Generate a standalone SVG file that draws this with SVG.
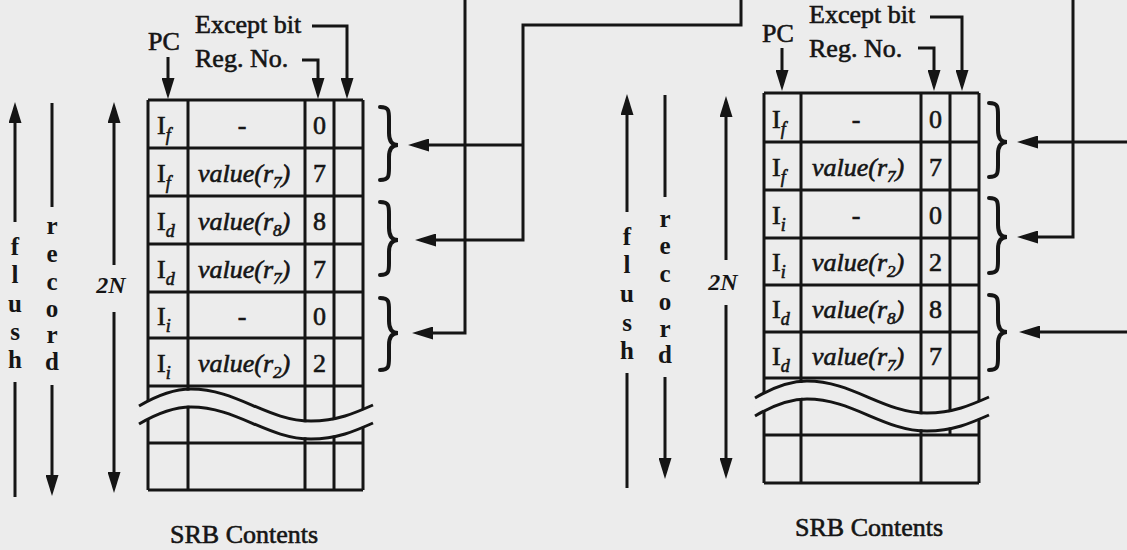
<svg xmlns="http://www.w3.org/2000/svg" xmlns:xlink="http://www.w3.org/1999/xlink" width="1127" height="550" viewBox="0 0 1127 550">
<style>
.ln{fill:none;stroke:#151515;stroke-width:3}
.br{fill:none;stroke:#151515;stroke-width:4;stroke-linecap:round}
.t{font-family:"Liberation Serif","Times New Roman",serif;font-size:26px;fill:#151515;stroke:#151515;stroke-width:0.6}
.c{font-family:"Liberation Serif","Times New Roman",serif;font-size:26px;fill:#151515;stroke:#151515;stroke-width:0.6}
.it{font-style:italic}
.sub{font-size:18px;font-style:italic}
.sd{font-size:17px}
.mid{text-anchor:middle}
.v{font-family:"Liberation Serif","Times New Roman",serif;font-size:25px;font-weight:bold;fill:#151515;text-anchor:middle}
.n2{font-family:"Liberation Serif","Times New Roman",serif;font-size:24px;font-style:italic;font-weight:bold;fill:#151515;text-anchor:middle}
.mask{fill:none;stroke:#ececec;stroke-width:15}
</style>
<defs>
<marker id="ah" markerUnits="userSpaceOnUse" markerWidth="21" markerHeight="13" refX="15" refY="6.5" orient="auto">
<path d="M0,0 L21,6.5 L0,13 z" fill="#151515"/>
</marker>
<path id="wave" d="M0,0 C17,-10 34,-17 52,-17 C98,-17 128,15 172,15 C198,15 216,7 234,-1"/>
</defs>
<rect width="1127" height="550" fill="#ececec"/>

<g id="table-left">
<path class="ln" d="M148,100 H363 M148,148 H363 M148,196 H363 M148,244 H363 M148,292 H363 M148,338 H363 M148,386 H363 M148,443 H363 M148,490 H363 M148,100 V490 M188,100 V490 M305,100 V490 M334,100 V490 M363,100 V490"/>
<use xlink:href="#wave" class="mask" transform="translate(139,415)"/>
<use xlink:href="#wave" class="ln" transform="translate(139,406)"/>
<use xlink:href="#wave" class="ln" transform="translate(139,424)"/>
<g class="c">
<text x="157" y="134">I<tspan class="sub" dy="7">f</tspan></text>
<text x="157" y="182">I<tspan class="sub" dy="7">f</tspan></text>
<text x="157" y="230">I<tspan class="sub" dy="7">d</tspan></text>
<text x="157" y="278">I<tspan class="sub" dy="7">d</tspan></text>
<text x="157" y="325">I<tspan class="sub" dy="7">i</tspan></text>
<text x="157" y="372">I<tspan class="sub" dy="7">i</tspan></text>
<text x="242" y="134" class="mid">-</text>
<text x="198" y="182" class="it">value(r<tspan class="sd" dy="6">7</tspan><tspan dy="-6">)</tspan></text>
<text x="198" y="230" class="it">value(r<tspan class="sd" dy="6">8</tspan><tspan dy="-6">)</tspan></text>
<text x="198" y="278" class="it">value(r<tspan class="sd" dy="6">7</tspan><tspan dy="-6">)</tspan></text>
<text x="242" y="325" class="mid">-</text>
<text x="198" y="372" class="it">value(r<tspan class="sd" dy="6">2</tspan><tspan dy="-6">)</tspan></text>
<text x="319.5" y="134" class="mid">0</text>
<text x="319.5" y="182" class="mid">7</text>
<text x="319.5" y="230" class="mid">8</text>
<text x="319.5" y="278" class="mid">7</text>
<text x="319.5" y="325" class="mid">0</text>
<text x="319.5" y="372" class="mid">2</text>
</g>
</g>

<g id="table-right">
<path class="ln" d="M764,93 H979 M764,142 H979 M764,190 H979 M764,238 H979 M764,285 H979 M764,332 H979 M764,378 H979 M764,435 H979 M764,483 H979 M764,93 V483 M801,93 V483 M921,93 V483 M950,93 V435 M979,93 V483"/>
<use xlink:href="#wave" class="mask" transform="translate(755,407)"/>
<use xlink:href="#wave" class="ln" transform="translate(755,398)"/>
<use xlink:href="#wave" class="ln" transform="translate(755,416)"/>
<g class="c">
<text x="772" y="128">I<tspan class="sub" dy="7">f</tspan></text>
<text x="772" y="176">I<tspan class="sub" dy="7">f</tspan></text>
<text x="772" y="224">I<tspan class="sub" dy="7">i</tspan></text>
<text x="772" y="271">I<tspan class="sub" dy="7">i</tspan></text>
<text x="772" y="318">I<tspan class="sub" dy="7">d</tspan></text>
<text x="772" y="365">I<tspan class="sub" dy="7">d</tspan></text>
<text x="856" y="128" class="mid">-</text>
<text x="812" y="176" class="it">value(r<tspan class="sd" dy="6">7</tspan><tspan dy="-6">)</tspan></text>
<text x="856" y="224" class="mid">-</text>
<text x="812" y="271" class="it">value(r<tspan class="sd" dy="6">2</tspan><tspan dy="-6">)</tspan></text>
<text x="812" y="318" class="it">value(r<tspan class="sd" dy="6">8</tspan><tspan dy="-6">)</tspan></text>
<text x="812" y="365" class="it">value(r<tspan class="sd" dy="6">7</tspan><tspan dy="-6">)</tspan></text>
<text x="935.5" y="128" class="mid">0</text>
<text x="935.5" y="176" class="mid">7</text>
<text x="935.5" y="224" class="mid">0</text>
<text x="935.5" y="271" class="mid">2</text>
<text x="935.5" y="318" class="mid">8</text>
<text x="935.5" y="365" class="mid">7</text>
</g>
</g>

<g id="labels-left">
<text class="t" x="148" y="50">PC</text>
<text class="t" x="195" y="33">Except bit</text>
<text class="t" x="195" y="67">Reg. No.</text>
<text class="t" x="170" y="543">SRB Contents</text>
<text class="n2" x="111" y="293">2N</text>
<g class="v">
<text x="15" y="255">f</text><text x="15" y="283">l</text><text x="15" y="312">u</text><text x="15" y="340">s</text><text x="15" y="368">h</text>
<text x="52" y="234">r</text><text x="52" y="262">e</text><text x="52" y="290">c</text><text x="52" y="317">o</text><text x="52" y="343">r</text><text x="52" y="370">d</text>
</g>
</g>

<g id="labels-right">
<text class="t" x="762" y="42">PC</text>
<text class="t" x="809" y="23">Except bit</text>
<text class="t" x="809" y="57">Reg. No.</text>
<text class="t" x="795" y="536">SRB Contents</text>
<text class="n2" x="723" y="290">2N</text>
<g class="v">
<text x="627" y="245">f</text><text x="627" y="273">l</text><text x="627" y="302">u</text><text x="627" y="331">s</text><text x="627" y="359">h</text>
<text x="665" y="227">r</text><text x="665" y="254">e</text><text x="665" y="282">c</text><text x="665" y="310">o</text><text x="665" y="337">r</text><text x="665" y="363">d</text>
</g>
</g>

<g id="brackets">
<path class="br" d="M380,107 C389,107 389,111 389,119 V133 C389,141 392,145 398,145 C392,145 389,149 389,157 V168 C389,176 389,180 380,180"/>
<path class="br" d="M380,202 C389,202 389,206 389,214 V228 C389,236 392,240 398,240 C392,240 389,244 389,252 V263 C389,271 389,275 380,275"/>
<path class="br" d="M380,298 C389,298 389,302 389,310 V321 C389,329 392,333 398,333 C392,333 389,337 389,345 V358 C389,366 389,370 380,370"/>
<path class="br" d="M989,103 C998,103 998,107 998,115 V130 C998,138 1001,142 1007,142 C1001,142 998,146 998,154 V165 C998,173 998,177 989,177"/>
<path class="br" d="M989,198 C998,198 998,202 998,210 V225 C998,233 1001,237 1007,237 C1001,237 998,241 998,249 V261 C998,269 998,273 989,273"/>
<path class="br" d="M989,295 C998,295 998,299 998,307 V320 C998,328 1001,332 1007,332 C1001,332 998,336 998,344 V358 C998,366 998,370 989,370"/>
</g>

<g id="connectors" class="ln">
<path d="M168,57 V93" marker-end="url(#ah)"/>
<path d="M302,60 H318 V93" marker-end="url(#ah)"/>
<path d="M312,26 H347 V93" marker-end="url(#ah)"/>
<path d="M782,48 V85" marker-end="url(#ah)"/>
<path d="M918,48 H934 V85" marker-end="url(#ah)"/>
<path d="M930,17 H962 V85" marker-end="url(#ah)"/>

<path d="M15,222 V108" marker-end="url(#ah)"/>
<path d="M15,382 V497"/>
<path d="M52,103 V207"/>
<path d="M52,385 V490" marker-end="url(#ah)"/>
<path d="M114,265 V108" marker-end="url(#ah)"/>
<path d="M114,312 V487" marker-end="url(#ah)"/>

<path d="M627,212 V100" marker-end="url(#ah)"/>
<path d="M627,373 V488"/>
<path d="M665,95 V197"/>
<path d="M665,377 V473" marker-end="url(#ah)"/>
<path d="M726,260 V102" marker-end="url(#ah)"/>
<path d="M726,305 V473" marker-end="url(#ah)"/>

<path d="M741,0 V25 H523 V240 H421" marker-end="url(#ah)"/>
<path d="M523,145 H414" marker-end="url(#ah)"/>
<path d="M465,0 V333 H418" marker-end="url(#ah)"/>
<path d="M1073,0 V237 H1023" marker-end="url(#ah)"/>
<path d="M1127,142 H1023" marker-end="url(#ah)"/>
<path d="M1127,332 H1025" marker-end="url(#ah)"/>
</g>
</svg>
